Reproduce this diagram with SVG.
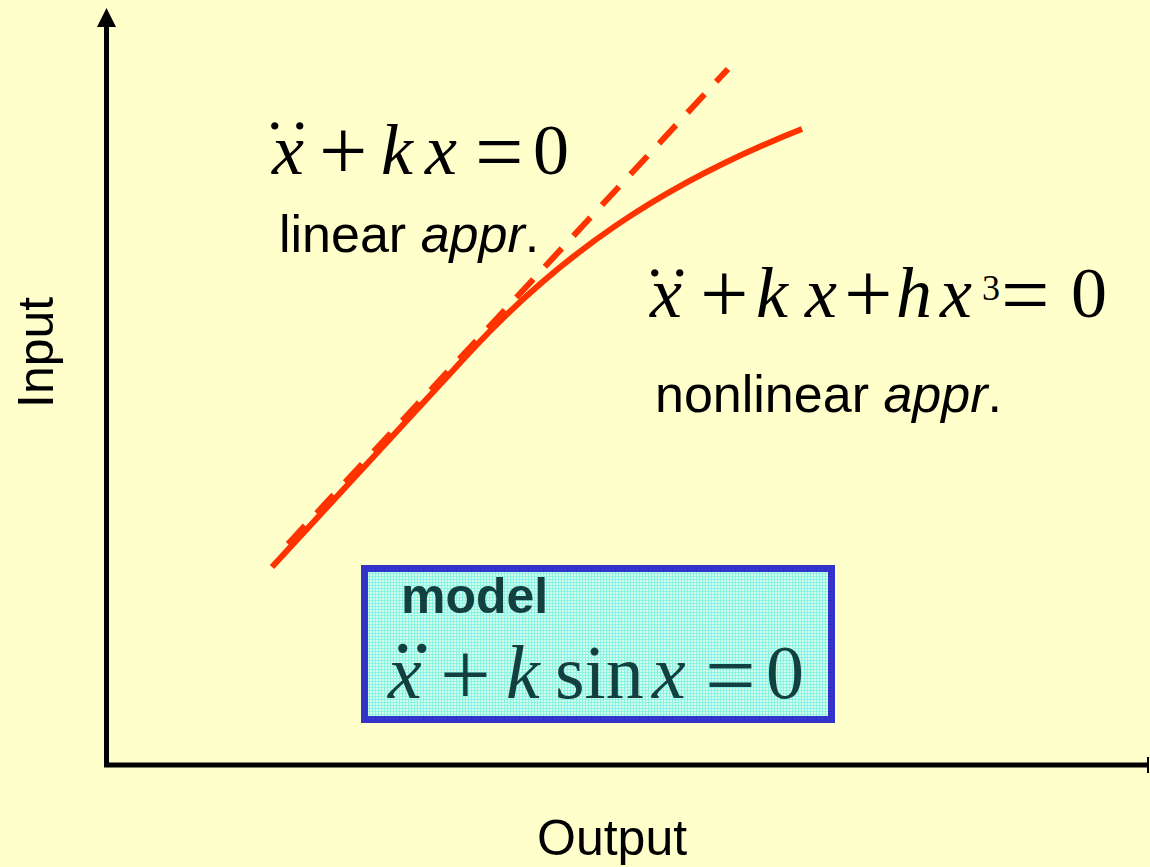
<svg xmlns="http://www.w3.org/2000/svg" width="1150" height="867" viewBox="0 0 1150 867">
<defs>
<style>
.math{font-family:"Liberation Serif","Times New Roman",serif;font-size:72px;fill:#000}
.it{font-style:italic}
.op{font-size:86px}
.sup{font-size:36px}
.lbl{font-family:"Liberation Sans",Arial,sans-serif;font-size:52px;fill:#000}
.axis{font-family:"Liberation Sans",Arial,sans-serif;font-size:50px;fill:#000}
.dot{font-family:"Liberation Serif","Times New Roman",serif;font-size:62px}
.curve{fill:none;stroke:#FF3300;stroke-width:6}
.mtxt{fill:#123f40}
</style>
<pattern id="grid" width="3" height="3" patternUnits="userSpaceOnUse">
<rect width="3" height="3" fill="#d2fde6"/>
<rect width="3" height="1" fill="#8af2e6"/>
<rect width="1" height="3" fill="#8af2e6"/>
</pattern>
</defs>
<rect width="1150" height="867" fill="#FFFFCC"/>

<g id="axes">
<line x1="104" y1="765" x2="1148" y2="765" stroke="#000" stroke-width="5"/>
<rect x="1147" y="757" width="2" height="16" fill="#000"/>
<line x1="106.5" y1="767" x2="106.5" y2="24" stroke="#000" stroke-width="5"/>
<polygon points="97,27 116,27 106.5,8" fill="#000"/>
<text class="axis" transform="translate(53,408) rotate(-90)">Input</text>
<text class="axis" x="537" y="855">Output</text>
</g>

<g id="connectors">
<path class="curve" d="M272,567 L470,352 C560,255 660,185 802,129"/>
<line class="curve" x1="288" y1="544" x2="728" y2="69" stroke-dasharray="25 17"/>
</g>

<g id="linear">
<text class="dot" y="129"><tspan x="267">.</tspan><tspan x="292">.</tspan></text>
<text class="math"><tspan class="it" x="272" y="174">x</tspan><tspan class="op" x="319" y="180">+</tspan><tspan class="it" x="381" y="174">k</tspan><tspan class="it" x="425" y="174">x</tspan><tspan class="op" x="475" y="181">=</tspan><tspan x="533" y="174">0</tspan></text>
<text class="lbl" x="279" y="252">linear <tspan font-style="italic">appr</tspan>.</text>
</g>

<g id="nonlinear">
<text class="dot" y="276"><tspan x="647">.</tspan><tspan x="672">.</tspan></text>
<text class="math"><tspan class="it" x="650" y="317">x</tspan><tspan class="op" x="700" y="323">+</tspan><tspan class="it" x="756" y="317">k</tspan><tspan class="it" x="805" y="317">x</tspan><tspan class="op" x="844" y="323">+</tspan><tspan class="it" x="896" y="317">h</tspan><tspan class="it" x="940" y="317">x</tspan><tspan class="sup" x="982" y="300">3</tspan><tspan class="op" x="1001" y="324">=</tspan><tspan x="1071" y="317">0</tspan></text>
<text class="lbl" x="655" y="412">nonlinear <tspan font-style="italic">appr</tspan>.</text>
</g>

<g id="model">
<rect x="364.5" y="568.5" width="467" height="151" fill="url(#grid)" stroke="#3333CC" stroke-width="7"/>
<text class="mtxt" x="401" y="613" font-family="Liberation Sans,Arial,sans-serif" font-size="50" font-weight="bold">model</text>
<text class="dot mtxt" style="font-size:78px" y="652"><tspan x="393">.</tspan><tspan x="412">.</tspan></text>
<text class="math mtxt" style="font-size:76px"><tspan class="it" x="388" y="698">x</tspan><tspan x="440" y="705" font-size="90">+</tspan><tspan class="it" x="506" y="698">k</tspan><tspan x="555" y="698">sin</tspan><tspan class="it" x="652" y="698">x</tspan><tspan x="705" y="706" font-size="90">=</tspan><tspan x="766" y="698">0</tspan></text>
</g>
</svg>
